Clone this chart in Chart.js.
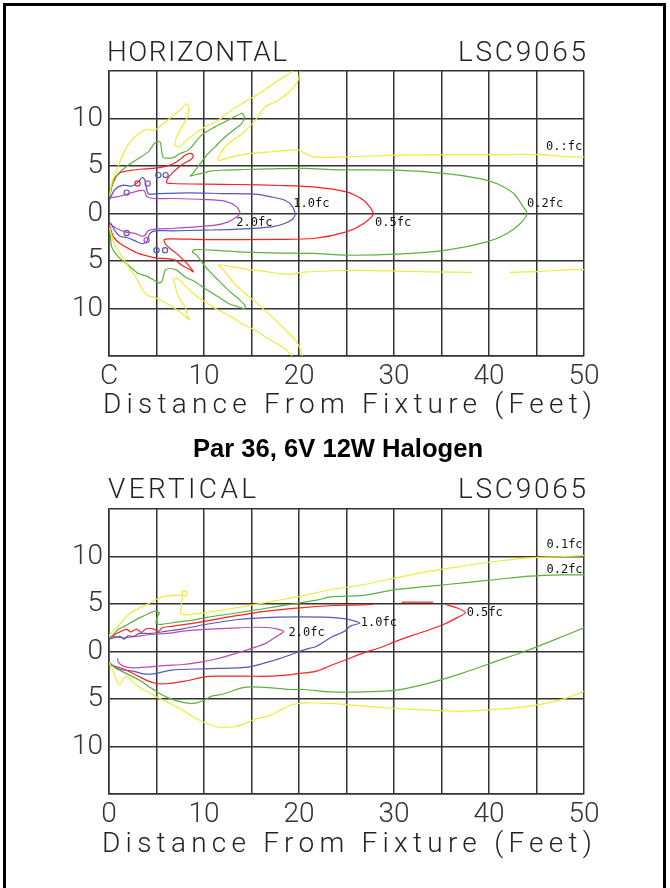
<!DOCTYPE html>
<html>
<head>
<meta charset="utf-8">
<title>LSC9065 - Par 36, 6V 12W Halogen</title>
<script src="https://cdn.jsdelivr.net/npm/chart.js@4.4.1/dist/chart.umd.min.js"></script>
<style>
  html, body { margin: 0; padding: 0; background: #fff; }
  body { width: 670px; height: 888px; position: relative; overflow: hidden; }
  #frame { position: absolute; left: 3px; top: 3px; width: 657px; height: 900px; border: 3px solid #000; border-bottom: none; }
  canvas { position: absolute; left: 0; }
  #horiz { top: 0; }
  #vert { top: 470px; }
</style>
</head>
<body>
<div id="frame"></div>
<canvas id="horiz" width="670" height="470"></canvas>
<canvas id="vert" width="670" height="418"></canvas>
<script>
// axis ticks (feet)
const xTicks = [0, 10, 20, 30, 40, 50];
const xLabelsTop = ['C', '10', '20', '30', '40', '50'];
const xLabelsBottom = ['0', '10', '20', '30', '40', '50'];
const yTicks = [10, 5, 0, -5, -10];
const yLabels = ['10', '5', '0', '5', '10'];

// HORIZONTAL isolux contours, [distance, offset] in feet
const hYellowUpper = [[0,1.9],[0.1,2.1],[0.28,3.16],[0.8,4.56],[1.68,6.67],[2.39,7.72],[3.44,8.6],[3.96,8.84],[4.84,8.77],[5.72,9.47],[6.6,10.18],[7.65,11.05],[8.18,11.58],[8.35,11.23],[8.28,10.18],[7.65,9.12],[7.12,8.07],[6.95,7.19],[7.47,7.02],[8.18,7.72],[9.05,8.42],[10.1,9.12],[11.5,9.82],[12.9,10.88],[14.3,11.75],[16.07,12.8],[17.8,14.0],[19.2,14.9],[19.5,15.3]];
const hYellowUpper2 = [[20.2,15.3],[20.1,15],[19.9,14.0],[19.2,13.0],[17.8,11.9],[16.4,11.2],[15.4,9.8],[14.0,8.4],[12.6,7.4],[11.7,6.3],[11.5,5.6],[12.9,5.96],[14.7,6.3],[17.1,6.5],[19.9,6.7],[20.3,6.5],[21.5,5.96],[25,5.96],[30.3,6.14],[35.5,6.2],[40,6.2],[45.4,6.2],[47.8,6.0],[50,5.96]];
const hYellowLower = [[0,-1.5],[0.1,-1.6],[0.46,-3.0],[1.16,-4.2],[2.04,-5.6],[2.9,-6.84],[3.6,-8.07],[4.0,-8.6],[4.7,-8.8],[5.4,-9.1],[6.6,-9.8],[7.65,-10.5],[8.2,-11.0],[8.5,-11.2],[8.3,-10.9],[8.0,-9.8],[7.5,-9.1],[7.1,-8.2],[6.95,-7.5],[6.8,-6.85],[7.3,-6.9],[8.1,-7.7],[9.1,-8.6],[10.1,-9.3],[11.2,-10.0],[12.6,-10.7],[14.0,-11.6],[15.4,-12.3],[16.8,-13.2],[18.2,-14.0],[19.2,-14.9],[19.4,-15.3]];
const hYellowLower2 = [[20.4,-15.3],[20.2,-14.4],[19.6,-13.3],[18.6,-12.3],[17.5,-11.2],[16.4,-10.2],[15.4,-9.3],[14.3,-8.4],[13.3,-7.5],[12.5,-6.5],[12.0,-5.9],[11.5,-5.4],[12.9,-5.6],[14.7,-5.9],[16.4,-6.1],[17.8,-6.3],[19.2,-6.4],[20.1,-6.2],[25,-6.0],[29.2,-6.04],[33.8,-6.14],[38.2,-6.2]];
const hYellowLower3 = [[42.2,-6.2],[45.4,-6.1],[48.8,-5.9],[50,-5.9]];
const hGreen = [[0,1.8],[0.1,2.1],[0.35,2.98],[0.98,4.2],[2.03,5.09],[3.09,5.79],[4.14,6.49],[4.84,7.44],[5.37,7.54],[5.54,6.67],[5.72,5.89],[6.77,5.89],[7.47,6.32],[8.35,6.67],[9.75,8.25],[11.16,9.12],[12.56,9.82],[13.96,10.53],[14.25,10.18],[13.96,9.47],[13.09,8.77],[12.03,7.89],[11.16,7.02],[10.28,6.14],[9.75,5.44],[9.23,4.74],[8.77,4.14],[8.53,3.93],[9.4,4.14],[10.8,4.49],[12.2,4.56],[14.3,4.63],[17.1,4.7],[20.6,4.75],[24.0,4.6],[30.3,4.56],[35.5,4.2],[39.05,3.68],[40.8,3.16],[42.6,2.1],[43.6,0.7],[44.0,0],[43.3,-1.05],[41.9,-2.1],[39.8,-2.98],[35.5,-3.86],[30.3,-4.28],[25.0,-4.39],[21.5,-4.2],[17.1,-4.14],[13.6,-4.04],[10.8,-3.86],[9.05,-3.8],[8.77,-4.04],[9.23,-4.39],[9.75,-5.09],[10.46,-5.96],[11.5,-7.02],[12.56,-8.07],[13.6,-8.95],[14.3,-9.65],[14.3,-10.0],[13.6,-9.82],[12.56,-9.47],[11.5,-8.77],[10.1,-7.9],[9.05,-7.19],[8.0,-6.67],[7.12,-5.96],[6.42,-5.79],[5.9,-5.96],[5.72,-6.67],[5.54,-7.19],[5.19,-7.3],[4.14,-6.67],[3.09,-6.32],[2.04,-5.44],[0.98,-4.56],[0.28,-3.5],[0.1,-1.75],[0,-1.4]];
const hRed = [[0,1.8],[0.1,1.93],[0.46,3.5],[1.16,4.28],[2.39,4.56],[3.79,4.7],[4.84,4.77],[5.72,4.91],[6.6,5.16],[7.47,5.68],[8.0,6.14],[8.63,6.32],[8.88,6.04],[8.63,5.68],[8.0,5.33],[7.3,4.84],[6.6,4.2],[6.18,3.68],[6.07,3.23],[6.6,3.16],[10.1,3.09],[13.6,3.05],[18.0,2.95],[21.5,2.8],[25,2.27],[26.8,1.4],[27.8,0],[26.8,-1.05],[25.0,-1.93],[21.5,-2.63],[18.0,-2.72],[10.1,-2.74],[6.6,-2.67],[5.83,-2.74],[5.9,-3.16],[6.42,-3.68],[7.1,-4.2],[7.82,-4.9],[8.35,-5.44],[8.88,-6.14],[8.5,-5.9],[7.65,-5.44],[6.95,-4.9],[6.07,-4.74],[5.0,-4.7],[4.14,-4.5],[3.09,-4.2],[2.04,-3.68],[1.16,-3.16],[0.46,-2.46],[0.1,-1.4],[0,-1.2]];
const hBlue = [[0,1.4],[0.1,1.58],[0.63,2.53],[1.5,2.98],[2.39,2.88],[3.09,3.33],[3.5,3.79],[3.79,3.5],[3.96,2.53],[4.2,2.04],[5.19,2.1],[8.35,2.18],[11.86,2.1],[15.37,2.04],[17.1,1.75],[18.5,1.4],[19.2,0.88],[19.6,0],[19.4,-0.53],[18.5,-1.05],[17.1,-1.4],[13.6,-1.65],[10.1,-1.75],[6.6,-1.82],[4.84,-1.82],[4.3,-2.1],[4.14,-2.46],[3.96,-2.98],[3.44,-3.16],[2.74,-2.88],[1.86,-2.53],[1.16,-2.39],[0.63,-1.82],[0.2,-1.05],[0,-0.9]];
const hMagenta = [[0,1.5],[0.28,1.68],[1.16,1.82],[2.04,2.1],[3.09,2.39],[3.72,2.39],[3.96,1.82],[4.67,1.58],[6.6,1.58],[10.1,1.47],[12.2,1.3],[13.44,0.7],[13.8,0],[13.44,-0.35],[12.56,-0.88],[11.16,-1.23],[8.35,-1.47],[6.6,-1.58],[4.84,-1.65],[4.14,-1.82],[3.79,-2.28],[3.44,-2.39],[2.74,-2.1],[1.68,-1.93],[0.8,-1.58],[0.28,-1.23],[0,-1.1]];
const hRedDots = [[3.0,3.16]];
const hBlueDots = [[5.19,4.04],[5.96,4.04],[5.0,-3.86],[5.9,-3.86],[1.86,2.2],[1.86,-2.05]];
const hMagentaDots = [[4.07,3.16],[3.96,-2.8]];
const hLabels = [['2.0fc',13.4,-0.97],['1.0fc',19.4,0.98],['0.5fc',28.0,-0.97],['0.2fc',44.0,0.98],['0.:fc',46.0,6.98]];

// VERTICAL isolux contours
const vYellowUpper = [[0,1.5],[0.1,1.8],[0.8,2.5],[1.4,3.2],[2.2,4.0],[3.26,4.6],[4.3,5.1],[5.2,5.6],[6.07,5.85],[7.65,5.88],[7.62,4.95],[7.56,4.05],[8.0,3.85],[8.7,3.9],[10.1,4.1],[11.2,4.25],[13.1,4.55],[14.8,4.85],[17.3,5.3],[20.1,5.8],[23.3,6.5],[26.8,7.05],[30.25,7.75],[33.8,8.46],[37.3,9.0],[40.8,9.5],[44.3,9.86],[47.8,10.0],[50,10.1]];
const vYellowLower = [[0,-1.2],[0.1,-1.37],[0.46,-2.2],[0.9,-3.2],[1.16,-3.47],[1.5,-2.95],[1.9,-2.6],[2.56,-3.3],[3.6,-4.0],[4.84,-4.7],[6.07,-5.3],[7.3,-5.9],[8.7,-6.8],[10.1,-7.5],[11.5,-7.95],[12.9,-7.95],[14.0,-7.7],[15.4,-7.1],[16.8,-6.8],[17.8,-6.3],[19.2,-5.6],[20.8,-5.4],[23.3,-5.47],[26.8,-5.75],[30.25,-6.0],[33.8,-6.18],[37.3,-6.28],[40.8,-6.1],[44.3,-5.75],[47.1,-5.2],[48.5,-4.77],[50,-4.2]];
const vGreenUpper = [[0,1.5],[0.28,1.6],[0.98,2.32],[1.68,2.67],[2.56,3.2],[3.6,3.72],[4.84,4.25],[5.3,4.07],[5.09,3.65],[4.95,3.0],[5.37,2.84],[7.12,3.09],[8.88,3.3],[10.28,3.6],[13.1,4.0],[15.9,4.45],[18.7,4.9],[21.86,5.4],[23.3,5.75],[26.8,5.9],[30.25,6.53],[33.8,6.88],[37.3,7.23],[40.8,7.58],[44.3,7.93],[47.8,8.07],[50,8.07]];
const vGreenLower = [[0,-1.1],[0.1,-1.2],[0.63,-1.72],[1.68,-2.25],[3.09,-2.95],[4.14,-3.65],[5.19,-4.35],[6.25,-4.88],[7.65,-5.33],[8.88,-5.47],[9.75,-5.23],[10.8,-4.7],[11.86,-4.53],[12.9,-4.18],[14.0,-3.82],[15.0,-3.72],[17.1,-3.82],[19.2,-4.0],[20.6,-4.0],[23.3,-4.25],[26.8,-4.25],[30.25,-4.07],[33.8,-3.3],[37.3,-2.25],[40.8,-1.02],[44.3,0.21],[47.8,1.6],[50,2.5]];
const vRedUpper = [[0,1.3],[0.1,1.44],[0.8,1.9],[1.86,2.32],[2.3,2.05],[2.9,2.35],[3.4,2.0],[3.9,2.4],[4.67,2.39],[5.2,2.1],[5.6,2.5],[6.77,2.67],[9.58,3.09],[13.1,3.72],[16.6,4.25],[20.1,4.6],[23.6,4.84],[25.4,4.88],[27.8,4.95]];
const vRedUpper2 = [[30.8,5.19],[34.1,5.19]];
const vRed = [[35.4,4.95],[36.6,4.6],[37.5,4.07],[36.6,3.54],[35.2,2.84],[33.8,2.32],[32.0,1.72],[30.25,1.09],[28.5,0.39],[26.8,-0.14],[25.0,-0.84],[23.6,-1.37],[21.86,-2.07],[20.6,-2.25],[19.2,-2.42],[17.1,-2.6],[14.3,-2.6],[11.5,-2.6],[10.1,-2.67],[8.0,-3.12],[6.25,-3.37],[5.0,-3.37],[4.14,-3.12],[3.09,-2.6],[1.68,-1.9],[0.1,-1.37],[0,-1.2]];
const vBlue = [[0,1.2],[0.1,1.33],[1.16,1.6],[1.6,1.3],[2.0,1.65],[2.56,1.6],[3.2,1.9],[4.3,1.9],[6.07,2.14],[7.8,2.39],[10.1,2.84],[13.6,3.37],[17.1,3.6],[20.1,3.65],[23.3,3.6],[24.7,3.47],[25.7,3.26],[26.4,3.0],[25.4,2.67],[24.8,2.14],[23.6,1.6],[23.3,1.44],[21.86,0.56],[20.6,0.2],[18.9,-0.42],[17.1,-1.02],[14.8,-1.61],[13.6,-1.72],[10.1,-1.82],[6.6,-1.96],[4.67,-2.35],[3.6,-2.35],[2.56,-2.07],[1.16,-1.9],[0.1,-1.26],[0,-1.1]];
const vMagenta = [[0,1.5],[0.28,1.6],[1.5,1.44],[2.9,1.6],[4.3,1.79],[6.07,1.9],[7.8,2.14],[10.1,2.32],[13.6,2.49],[15.5,2.55],[17.3,2.45],[18.4,2.1],[17.65,1.6],[16.6,0.91],[15.5,0.49],[14.1,0.04],[12.4,-0.49],[11.0,-0.84],[9.6,-1.12],[7.8,-1.37],[6.07,-1.47],[4.3,-1.61],[2.56,-1.72],[1.5,-1.54],[0.98,-1.12],[0.9,-0.7]];
const vYellowDots = [[7.95,6.1]];
const vLabels = [['0.1fc',46.05,11.26],['0.2fc',46.05,8.63],['0.5fc',37.65,4.1],['1.0fc',26.5,3.05],['2.0fc',18.9,2.0]];

const YELLOW = '#ecec3c', GREEN = '#5cb040', RED = '#ff2020', BLUE = '#5656b8', MAGENTA = '#b44cb4';
const STROKE = '300 28px Roboto';

function line(pts, color) {
  return {
    data: pts.map(p => ({ x: p[0], y: p[1] })),
    showLine: true, borderColor: color, borderWidth: 1.2,
    pointRadius: 0, tension: 0.25, fill: false
  };
}
function dots(pts, color) {
  return {
    data: pts.map(p => ({ x: p[0], y: p[1] })),
    showLine: false, pointRadius: 2.6, pointStyle: 'circle',
    pointBorderColor: color, pointBackgroundColor: 'rgba(0,0,0,0)', pointBorderWidth: 1.2
  };
}

// text spread to a given width, like the plotter font
function spread(ctx, str, left, right, base, font) {
  ctx.font = font;
  ctx.letterSpacing = '0px';
  const w = ctx.measureText(str).width;
  ctx.letterSpacing = ((right - left - w) / (str.length - 1)) + 'px';
  ctx.fillText(str, left, base);
  ctx.letterSpacing = '0px';
}
function squeeze(ctx, str, left, right, base, font) {
  ctx.font = font;
  const w = ctx.measureText(str).width;
  ctx.save();
  ctx.translate(left, base);
  ctx.scale((right - left) / w, 1);
  ctx.fillText(str, 0, 0);
  ctx.restore();
}

function textPlugin(texts, labels, title) {
  return {
    id: 'texts',
    afterDraw(chart) {
      const ctx = chart.ctx;
      const sx = chart.scales.x, sy = chart.scales.y;
      ctx.save();
      ctx.fillStyle = '#222';
      ctx.textAlign = 'left';
      ctx.textBaseline = 'alphabetic';
      texts.forEach(t => spread(ctx, t[0], t[1], t[2], t[3], STROKE));
      if (title) {
        ctx.fillStyle = '#000';
        squeeze(ctx, title[0], title[1], title[2], title[3], 'bold 25px "Liberation Sans Narrow", "Liberation Sans", Arial, sans-serif');
      }
      ctx.fillStyle = '#111';
      ctx.font = '12px "DejaVu Sans Mono", monospace';
      ctx.textBaseline = 'middle';
      labels.forEach(l => ctx.fillText(l[0], sx.getPixelForValue(l[1]), sy.getPixelForValue(l[2])));
      ctx.restore();
    }
  };
}

function plot(id, datasets, xLabels, padding, texts, labels, title) {
  const tickFont = { family: 'Roboto', size: 28, weight: '300' };
  return new Chart(document.getElementById(id), {
    type: 'scatter',
    data: { datasets },
    options: {
      responsive: false, animation: false, devicePixelRatio: 1,
      layout: { padding },
      plugins: { legend: { display: false }, tooltip: { enabled: false } },
      scales: {
        x: {
          type: 'linear', min: 0, max: 50,
          afterFit: s => { s.height = 30; },
          ticks: {
            stepSize: 5, autoSkip: false, maxRotation: 0, padding: 4, color: '#333', font: tickFont,
            callback: v => { const i = xTicks.indexOf(v); return i < 0 ? '' : xLabels[i]; }
          },
          grid: { color: '#333', lineWidth: 1.5, drawTicks: false },
          border: { color: '#333', width: 1.5 }
        },
        y: {
          type: 'linear', min: -15, max: 15,
          afterFit: s => { s.width = 50; },
          ticks: {
            stepSize: 5, autoSkip: false, padding: 6, color: '#333', font: tickFont,
            callback: v => { const i = yTicks.indexOf(v); return i < 0 ? '' : yLabels[i]; }
          },
          grid: { color: '#333', lineWidth: 1.5, drawTicks: false },
          border: { color: '#333', width: 1.5 }
        }
      }
    },
    plugins: [textPlugin(texts, labels, title)]
  });
}

plot('horiz', [
  line(hYellowUpper, YELLOW), line(hYellowUpper2, YELLOW), line(hYellowLower, YELLOW),
  line(hYellowLower2, YELLOW), line(hYellowLower3, YELLOW),
  line(hGreen, GREEN), line(hRed, RED), line(hBlue, BLUE), line(hMagenta, MAGENTA),
  dots(hRedDots, RED), dots(hBlueDots, BLUE), dots(hMagentaDots, MAGENTA)
], xLabelsTop, { left: 59, right: 86, top: 71, bottom: 84 }, [
  ['HORIZONTAL', 107, 287, 61],
  ['LSC9065', 458, 586, 61],
  ['Distance From Fixture (Feet)', 103, 592, 413]
], hLabels, ['Par 36, 6V 12W Halogen', 193, 483, 457]);

plot('vert', [
  line(vYellowUpper, YELLOW), line(vYellowLower, YELLOW),
  line(vGreenUpper, GREEN), line(vGreenLower, GREEN),
  line(vRedUpper, RED), line(vRedUpper2, RED), line(vRed, RED),
  line(vBlue, BLUE), line(vMagenta, MAGENTA),
  dots(vYellowDots, YELLOW)
], xLabelsBottom, { left: 59, right: 86, top: 39, bottom: 64 }, [
  ['VERTICAL', 108, 256, 28],
  ['LSC9065', 458, 586, 28],
  ['Distance From Fixture (Feet)', 102, 592, 382]
], vLabels, null);
</script>
</body>
</html>
